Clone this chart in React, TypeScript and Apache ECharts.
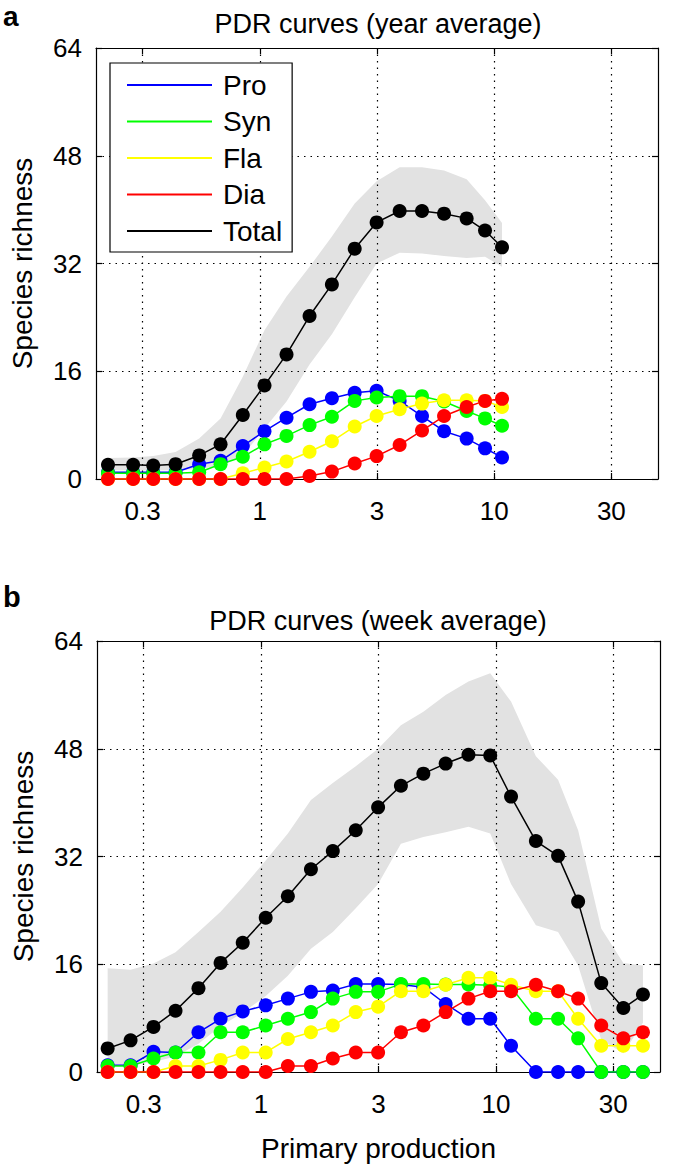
import React, { useEffect, useRef } from "react";
import * as echarts from "echarts";

const FONT = "'Liberation Sans', Arial, Helvetica, sans-serif";

// ---------- data ----------
const seriesNames = ["Pro", "Syn", "Fla", "Dia", "Total"];
const seriesColors = ["#0000ff", "#00ff00", "#ffff00", "#ff0000", "#000000"];

const xTickVals = [-0.5, 0, 0.5, 1, 1.5]; // log10 of primary production
const xTickLabels = ["0.3", "1", "3", "10", "30"];
const xRange = [0.2, 50];
const yRange = [0, 64];
const yStep = 16;

// Panel a: year average
const ppYear = [0.225, 0.288, 0.351, 0.437, 0.551, 0.68, 0.846, 1.047, 1.3, 1.63, 2.03, 2.54, 3.15, 3.95, 4.92, 6.11, 7.63, 9.14, 10.8];
const proYear = [1, 1, 1, 1, 2.2, 2.7, 4.9, 7.1, 9.1, 11.1, 12.0, 12.8, 13.1, 11.6, 9.35, 7.1, 6.0, 4.55, 3.2];
const synYear = [0.85, 0.85, 0.85, 0.85, 1.0, 2.2, 3.3, 5.15, 6.4, 8.0, 9.25, 11.6, 12.1, 12.3, 12.3, 11.5, 10.1, 9.0, 7.9];
const flaYear = [0, 0, 0, 0, 0, 0, 0.85, 1.7, 2.6, 4.05, 5.6, 7.8, 9.35, 10.35, 11.2, 11.7, 11.7, 11.6, 10.7];
const diaYear = [0, 0, 0, 0, 0, 0, 0, 0, 0, 0.45, 1.1, 2.3, 3.4, 5.05, 7.2, 9.35, 10.7, 11.6, 11.9];
const totalYear = [2.1, 2.1, 2.0, 2.2, 3.5, 5.15, 9.5, 13.9, 18.5, 24.2, 28.9, 34.2, 38.1, 39.8, 39.8, 39.4, 38.7, 36.9, 34.4];
const bandLowYear = [1.3, 1.3, 1.3, 1.3, 1.5, 2.0, 3.5, 7.5, 11.5, 17.0, 21.5, 27.0, 32.0, 33.6, 33.5, 33.1, 32.8, 33.0, 31.5];
const bandHighYear = [3.1, 3.2, 3.4, 4.0, 6.0, 9.0, 15.2, 22.1, 27.1, 31.5, 36.0, 40.9, 44.2, 46.3, 46.3, 45.8, 44.5, 41.4, 38.0];

// Panel b: week average
const ppWeek = [0.222, 0.278, 0.348, 0.432, 0.541, 0.672, 0.835, 1.046, 1.3, 1.63, 2.02, 2.53, 3.15, 3.94, 4.91, 6.11, 7.64, 9.46, 11.6, 14.8, 18.4, 22.4, 28.1, 34.9, 42.3];
const proWeek = [1, 1, 3.0, 2.9, 5.9, 7.9, 9.0, 9.9, 10.9, 11.9, 12.1, 13.05, 13.05, 13.0, 12.6, 10.1, 7.9, 7.9, 3.9, 0, 0, 0, 0, 0, 0];
const synWeek = [0.9, 0.9, 2.0, 2.9, 2.9, 5.9, 5.9, 6.9, 7.9, 8.9, 10.9, 11.9, 11.9, 13.05, 13.05, 13.0, 13.0, 12.9, 12.6, 7.9, 7.9, 5.0, 0, 0, 0];
const flaWeek = [0, 0, 0, 0.9, 0.9, 1.8, 2.9, 2.9, 4.9, 5.9, 6.9, 8.9, 9.7, 12.0, 12.0, 12.95, 14.0, 14.0, 12.95, 12.0, 12.0, 7.9, 3.9, 3.9, 3.9];
const diaWeek = [0, 0, 0, 0, 0, 0, 0, 0, 0.9, 0.9, 2.0, 2.9, 2.9, 5.9, 6.9, 8.9, 10.9, 12.0, 12.0, 12.95, 12.0, 10.9, 6.9, 5.0, 5.9];
const totalWeek = [3.5, 4.7, 6.7, 9.1, 12.45, 16.2, 19.2, 22.9, 26.1, 30.1, 32.8, 35.9, 39.3, 42.5, 44.3, 45.8, 47.1, 47.0, 40.9, 34.3, 32.1, 25.3, 13.2, 9.5, 11.5];
const bandLowWeek = [1.0, 1.0, 1.5, 2.3, 4.2, 6.8, 8.8, 11.3, 14.3, 18.3, 20.8, 24.3, 27.9, 33.9, 34.9, 35.6, 36.4, 35.4, 27.9, 21.8, 20.8, 15.8, 4.8, 2.8, 7.3];
const bandHighWeek = [15.4, 15.2, 16.1, 17.8, 20.8, 23.8, 27.4, 31.4, 35.4, 40.4, 42.9, 45.4, 48.0, 51.5, 53.5, 56.0, 58.0, 59.2, 55.0, 46.9, 43.4, 35.9, 21.3, 16.2, 15.8];

const titles = ["PDR curves (year average)", "PDR curves (week average)"];
const panelLetters = ["a", "b"];

// ---------- helpers ----------
const lg = (v: number) => Math.log10(v);
const XMIN = lg(xRange[0]);
const XMAX = lg(xRange[1]);

function tickLabel(v: number) {
  const i = xTickVals.findIndex((t) => Math.abs(t - v) < 1e-6);
  return i >= 0 ? xTickLabels[i] : "";
}

const dotted = { color: "#000", width: 1.2, type: [1.5, 5] as number[] };

function xAxisFor(grid: number, bottom: boolean, withName: boolean) {
  return {
    type: "value",
    gridIndex: grid,
    position: bottom ? "bottom" : "top",
    min: XMIN,
    max: XMAX,
    z: 1,
    name: withName ? "Primary production" : "",
    nameLocation: "middle",
    nameGap: 62,
    nameTextStyle: { fontSize: 28, fontFamily: FONT, color: "#000" },
    axisLine: { show: true, onZero: false, lineStyle: { color: "#000", width: 1.2 } },
    axisTick: { show: true, inside: true, length: 6, customValues: xTickVals, lineStyle: { color: "#000", width: 1.2 } },
    axisLabel: {
      show: bottom,
      customValues: xTickVals,
      formatter: (v: number) => tickLabel(v),
      fontSize: 26,
      fontFamily: FONT,
      color: "#000",
      margin: 19,
    },
    splitLine: { show: bottom, lineStyle: dotted },
  };
}

function yAxisFor(grid: number, left: boolean) {
  return {
    type: "value",
    gridIndex: grid,
    position: left ? "left" : "right",
    min: yRange[0],
    max: yRange[1],
    interval: yStep,
    z: 1,
    name: left ? "Species richness" : "",
    nameLocation: "middle",
    nameGap: 60,
    nameTextStyle: { fontSize: 28, fontFamily: FONT, color: "#000" },
    axisLine: { show: true, onZero: false, lineStyle: { color: "#000", width: 1.2 } },
    axisTick: { show: true, inside: true, length: 6, lineStyle: { color: "#000", width: 1.2 } },
    axisLabel: { show: left, fontSize: 26, fontFamily: FONT, color: "#000", margin: 14 },
    splitLine: { show: left, lineStyle: dotted },
  };
}

function panelSeries(
  grid: number,
  pp: number[],
  lines: number[][],
  low: number[],
  high: number[]
) {
  const xs = pp.map(lg);
  const out: any[] = [];
  out.push({
    type: "custom",
    name: "band-" + grid,
    xAxisIndex: grid * 2,
    yAxisIndex: grid * 2,
    data: xs.map((x, i) => [x, low[i], high[i]]),
    encode: { x: 0, y: [1, 2] },
    silent: true,
    clip: true,
    z: 0,
    renderItem: (params: any, api: any) => {
      if (params.dataIndex !== 0) return null;
      const top = xs.map((x, i) => api.coord([x, high[i]]));
      const bot = xs.map((x, i) => api.coord([x, low[i]])).reverse();
      return {
        type: "polygon",
        shape: { points: top.concat(bot) },
        style: { fill: "#e2e2e2", stroke: "none" },
      };
    },
  });
  lines.forEach((vals, k) => {
    out.push({
      type: "line",
      name: seriesNames[k],
      xAxisIndex: grid * 2,
      yAxisIndex: grid * 2,
      data: xs.map((x, i) => [x, vals[i]]),
      symbol: "circle",
      symbolSize: 14,
      showSymbol: true,
      color: seriesColors[k],
      lineStyle: { color: seriesColors[k], width: 1.5 },
      itemStyle: { color: seriesColors[k] },
      z: 2,
    });
  });
  return out;
}

export default function App() {
  const ref = useRef<HTMLDivElement>(null);

  useEffect(() => {
    const chart = echarts.init(ref.current!, null, { renderer: "svg" });
    const option: any = {
      animation: false,
      backgroundColor: "#fff",
      textStyle: { fontFamily: FONT },
      grid: [
        { left: 96, top: 48, width: 562, height: 431 },
        { left: 97, top: 641, width: 563, height: 431 },
      ],
      xAxis: [xAxisFor(0, true, false), xAxisFor(0, false, false), xAxisFor(1, true, true), xAxisFor(1, false, false)],
      yAxis: [yAxisFor(0, true), yAxisFor(0, false), yAxisFor(1, true), yAxisFor(1, false)],
      legend: {
        data: seriesNames,
        orient: "vertical",
        left: 110,
        top: 63,
        icon: "rect",
        itemWidth: 85,
        itemHeight: 2,
        itemGap: 8.5,
        padding: [8, 10, 7, 17],
        backgroundColor: "#fff",
        borderColor: "#000",
        borderWidth: 1.2,
        selectedMode: false,
        textStyle: { fontSize: 28, lineHeight: 28, fontFamily: FONT, color: "#000", padding: [0, 0, 0, 6] },
        z: 10,
      },
      graphic: [
        { type: "text", x: 378, y: 24, style: { text: titles[0], fontSize: 27, fontFamily: FONT, fill: "#000", textAlign: "center", textVerticalAlign: "middle" } },
        { type: "text", x: 378, y: 621, style: { text: titles[1], fontSize: 27, fontFamily: FONT, fill: "#000", textAlign: "center", textVerticalAlign: "middle" } },
        { type: "text", x: 3, y: 2, style: { text: panelLetters[0], fontSize: 28, fontWeight: "bold", fontFamily: FONT, fill: "#000", textAlign: "left", textVerticalAlign: "top" } },
        { type: "text", x: 3, y: 597, style: { text: panelLetters[1], fontSize: 29, lineHeight: 22, fontWeight: "bold", fontFamily: FONT, fill: "#000", textAlign: "left", textVerticalAlign: "middle" } },
      ],
      series: [
        ...panelSeries(0, ppYear, [proYear, synYear, flaYear, diaYear, totalYear], bandLowYear, bandHighYear),
        ...panelSeries(1, ppWeek, [proWeek, synWeek, flaWeek, diaWeek, totalWeek], bandLowWeek, bandHighWeek),
      ],
    };
    chart.setOption(option);
    return () => chart.dispose();
  }, []);

  return <div ref={ref} style={{ position: "absolute", left: 0, top: 0, width: 685, height: 1164 }} />;
}
